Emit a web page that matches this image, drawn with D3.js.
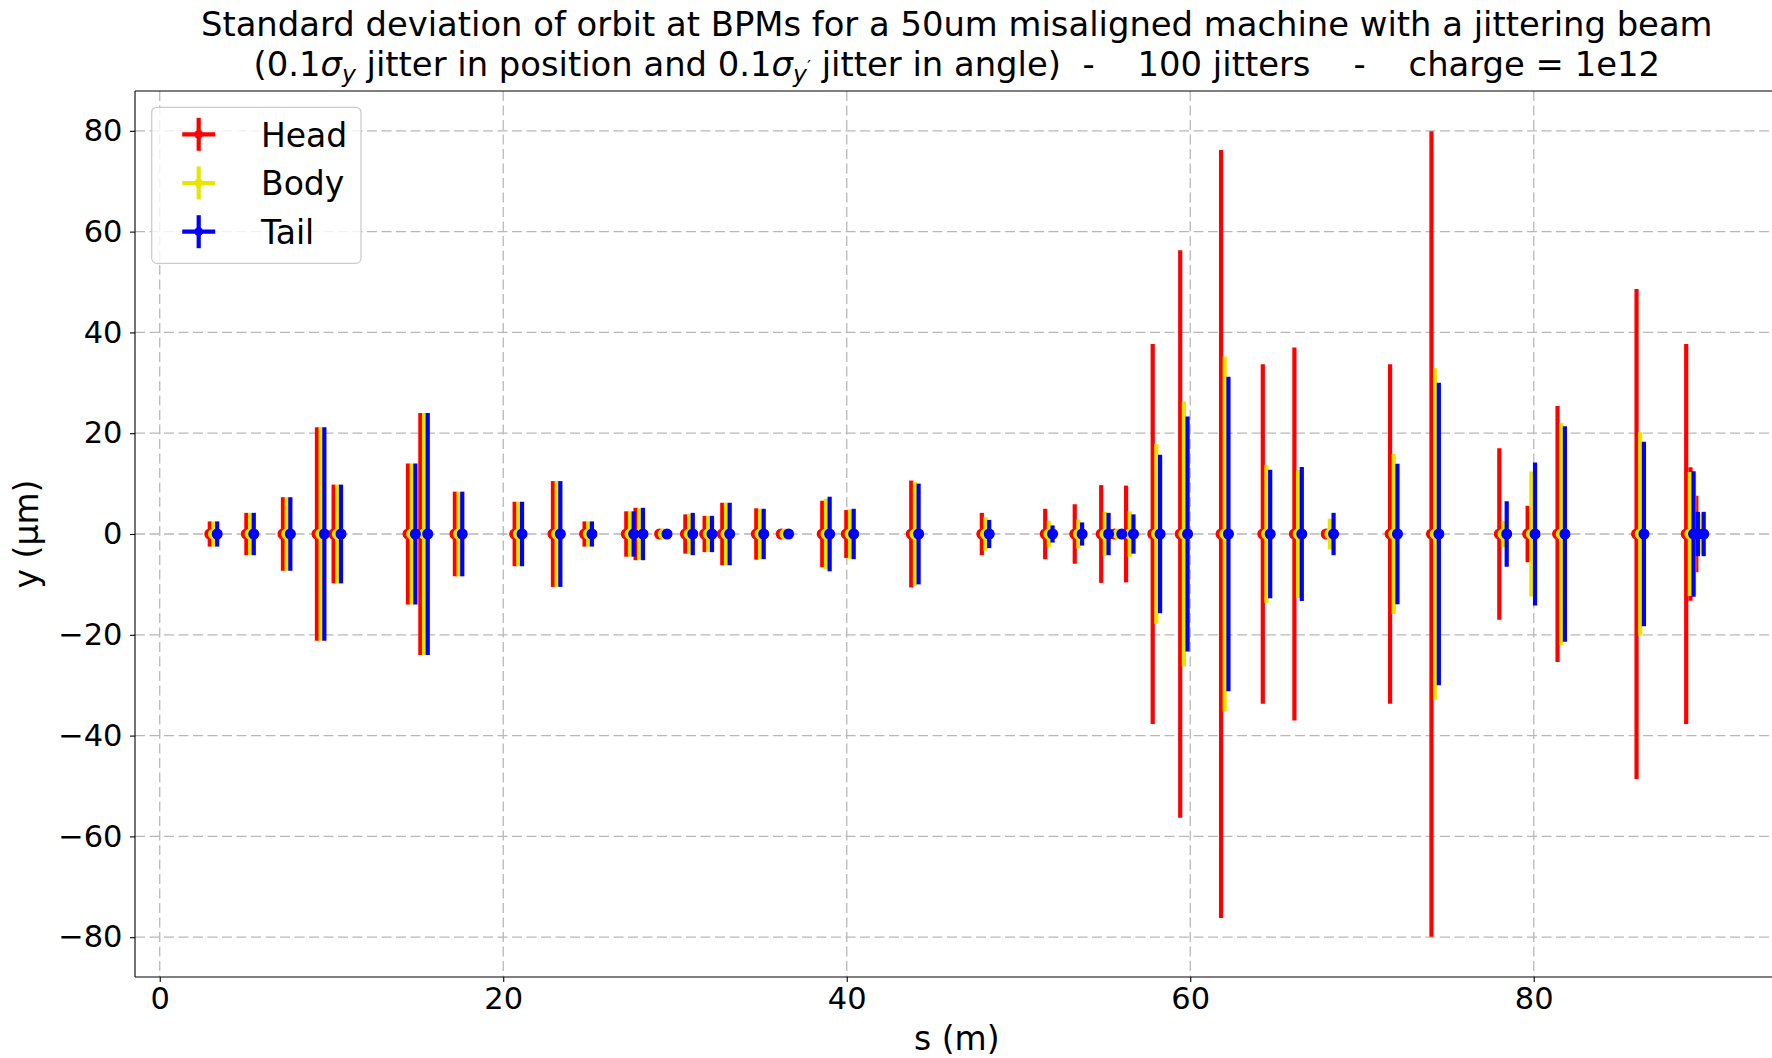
<!DOCTYPE html>
<html><head><meta charset="utf-8">
<script src="https://cdn.jsdelivr.net/npm/d3@7"></script>
<style>body{margin:0;background:#fff} text{font-family:"DejaVu Sans",sans-serif}</style>
</head><body><svg id="c" width="1772" height="1058"></svg>
<script>
// BPM positions s (m) and standard deviation of orbit (um) for each bunch slice
const bpmS = [3.13,5.26,7.39,9.37,10.34,14.67,15.39,17.40,20.88,23.11,24.95,27.38,27.92,29.32,30.82,31.94,32.97,34.95,36.40,38.79,40.19,43.97,48.08,51.77,53.49,55.03,55.80,56.48,58.03,59.63,62.01,64.44,66.28,68.13,71.85,74.26,78.21,79.86,81.60,86.20,89.09,89.34,89.68];
const headStd = [2.5,4.2,7.3,21.2,9.8,14.0,24.0,8.4,6.4,10.5,2.5,4.5,5.2,0.3,3.9,3.6,6.2,5.1,0.3,6.6,4.75,10.6,4.2,5.0,5.9,9.7,0.3,9.6,37.7,56.3,76.2,33.7,37.0,0.3,33.7,79.9,17.0,5.6,25.4,48.6,37.7,13.25,7.6];
const bodyStd = [2.5,4.2,7.3,21.2,9.8,14.0,24.0,8.4,6.4,10.5,2.5,4.5,5.1,0.3,4.0,3.6,6.2,5.0,0.3,7.0,4.9,10.3,3.3,2.6,2.85,4.4,0.3,4.5,17.8,26.3,35.2,13.7,12.7,3.05,15.85,32.9,2.6,12.4,22.0,20.2,12.3,12.0,4.0];
const tailStd = [2.5,4.2,7.3,21.2,9.8,14.0,24.0,8.4,6.4,10.5,2.5,4.5,5.2,0.3,4.2,3.6,6.2,5.0,0.3,7.4,5.0,10.0,2.8,1.7,2.3,4.2,0.3,3.9,15.7,23.3,31.2,12.75,13.3,4.2,13.95,30.0,6.5,14.2,21.4,18.3,12.45,4.4,4.4];
const seriesNames = ["Head","Body","Tail"];
const seriesColors = ["#ff0000","#e6e600","#0000ff"];
const seriesOffset = [-0.215, 0, 0.215];
const xTicks = [0,20,40,60,80];
const yTicks = [-80,-60,-40,-20,0,20,40,60,80];
const titleLine1 = "Standard deviation of orbit at BPMs for a 50um misaligned machine with a jittering beam";
const xLabel = "s (m)";
const yLabel = "y (\u00b5m)";

const series = [headStd, bodyStd, tailStd];
const svg = d3.select("#c");
const m = {left:135, top:91, right:1778.5, bottom:977};
const x = d3.scaleLinear().domain([-1.44, 94.25]).range([m.left, m.right]);
const y = d3.scaleLinear().domain([-87.9, 87.9]).range([m.bottom, m.top]);

svg.append("rect").attr("width",1772).attr("height",1058).attr("fill","#fff");
svg.append("defs").append("clipPath").attr("id","clip").append("rect")
  .attr("x",m.left).attr("y",m.top).attr("width",m.right-m.left).attr("height",m.bottom-m.top);

// grid
const grid = svg.append("g").attr("clip-path","url(#clip)")
  .attr("stroke","#b8b8b8").attr("stroke-width",1.3).attr("stroke-dasharray","10,4.5");
grid.selectAll(".gx").data(xTicks).join("line")
  .attr("x1",d=>x(d)).attr("x2",d=>x(d)).attr("y1",m.top).attr("y2",m.bottom);
grid.selectAll(".gy").data(yTicks).join("line")
  .attr("y1",d=>y(d)).attr("y2",d=>y(d)).attr("x1",m.left).attr("x2",m.right);

// data
const plot = svg.append("g").attr("clip-path","url(#clip)");
series.forEach((vals,k)=>{
  const pts = bpmS.map((s,i)=>({s:s+seriesOffset[k], v:vals[i]}));
  const g = plot.append("g");
  g.selectAll("line").data(pts).join("line")
    .attr("x1",d=>x(d.s)).attr("x2",d=>x(d.s))
    .attr("y1",d=>y(-d.v)).attr("y2",d=>y(d.v))
    .attr("stroke",seriesColors[k]).attr("stroke-width",4.2);
  g.selectAll("circle").data(pts).join("circle")
    .attr("cx",d=>x(d.s)).attr("cy",y(0)).attr("r",4.9)
    .attr("fill",seriesColors[k]).attr("stroke",seriesColors[k]).attr("stroke-width",1.2);
});

// axes
const ax = svg.append("g").attr("transform",`translate(0,${m.bottom})`)
  .call(d3.axisBottom(x).tickValues(xTicks).tickSize(5).tickPadding(5).tickFormat(d3.format("d")));
const ay = svg.append("g").attr("transform",`translate(${m.left},0)`)
  .call(d3.axisLeft(y).tickValues(yTicks).tickSize(5).tickPadding(7.5).tickFormat(d3.format("d")));
[ax,ay].forEach(a=>{
  a.select(".domain").remove();
  a.selectAll("text").attr("font-size",30.5).attr("font-family","DejaVu Sans").attr("fill","#000");
  a.selectAll("line").attr("stroke","#000").attr("stroke-width",1.1);
});

// spines
const sp = svg.append("g").attr("stroke","#000").attr("stroke-width",1.1);
sp.append("line").attr("x1",m.left).attr("x2",m.left).attr("y1",m.top).attr("y2",m.bottom);
sp.append("line").attr("x1",m.left).attr("x2",m.right).attr("y1",m.top).attr("y2",m.top);
sp.append("line").attr("x1",m.left).attr("x2",m.right).attr("y1",m.bottom).attr("y2",m.bottom);
sp.append("line").attr("x1",m.right).attr("x2",m.right).attr("y1",m.top).attr("y2",m.bottom);

// labels
svg.append("text").attr("x",(m.left+m.right)/2).attr("y",1050).attr("text-anchor","middle")
  .attr("font-size",33).text(xLabel);
svg.append("text").attr("transform",`translate(38,${(m.top+m.bottom)/2}) rotate(-90)`)
  .attr("text-anchor","middle").attr("font-size",33).text(yLabel);

// title
const cx = (m.left+m.right)/2;
const tfs = 33.8;
svg.append("text").attr("x",cx).attr("y",36).attr("text-anchor","middle").attr("font-size",tfs).text(titleLine1);
const t2 = svg.append("text").attr("x",cx).attr("y",76).attr("text-anchor","middle").attr("font-size",tfs)
  .attr("xml:space","preserve").style("white-space","pre");
t2.append("tspan").text("(0.1");
t2.append("tspan").attr("font-style","italic").text("\u03c3");
t2.append("tspan").attr("font-style","italic").attr("font-size",23.5).attr("dy",6).text("y");
t2.append("tspan").attr("dy",-6).text(" jitter in position and 0.1");
t2.append("tspan").attr("font-style","italic").text("\u03c3");
t2.append("tspan").attr("font-style","italic").attr("font-size",23.5).attr("dy",6).text("y");
t2.append("tspan").attr("font-size",18).attr("dy",-9).text("\u2032");
t2.append("tspan").attr("dy",3).text(" jitter in angle)  -    100 jitters    -    charge = 1e12");

// legend
const lg = svg.append("g");
lg.append("rect").attr("x",151.7).attr("y",107.3).attr("width",209.3).attr("height",156).attr("rx",5)
  .attr("fill","#fff").attr("fill-opacity",0.8).attr("stroke","#cccccc").attr("stroke-width",1.3);
seriesNames.forEach((n,k)=>{
  const cy = 134.3 + k*48.7, hx = 198.7;
  lg.append("line").attr("x1",hx).attr("x2",hx).attr("y1",cy-16.5).attr("y2",cy+16.5)
    .attr("stroke",seriesColors[k]).attr("stroke-width",4.2);
  lg.append("line").attr("x1",hx-16.5).attr("x2",hx+16.5).attr("y1",cy).attr("y2",cy)
    .attr("stroke",seriesColors[k]).attr("stroke-width",4.2);
  lg.append("circle").attr("cx",hx).attr("cy",cy).attr("r",4.4).attr("fill",seriesColors[k]);
  lg.append("text").attr("x",261).attr("y",cy+12.2).attr("font-size",33).text(n);
});
</script></body></html>
